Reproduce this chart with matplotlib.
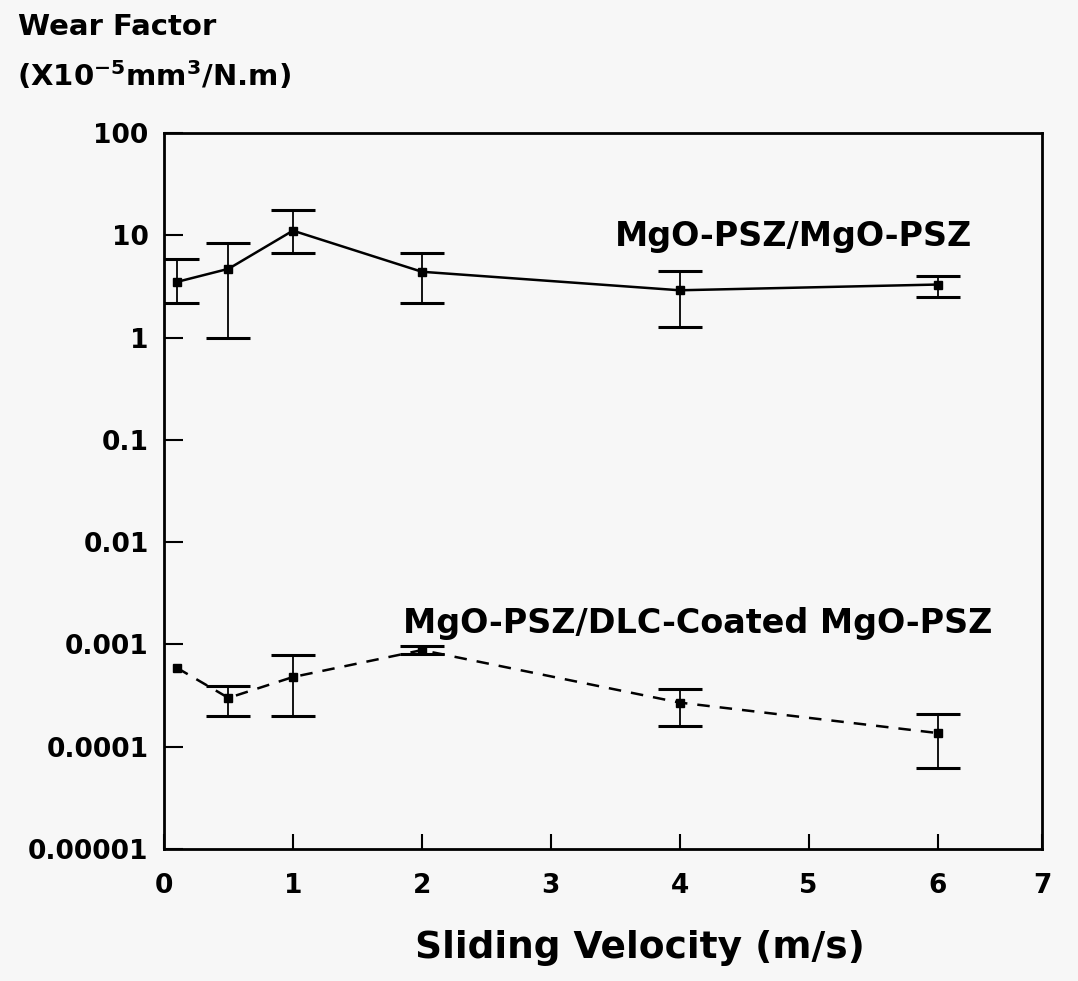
import numpy as np
import matplotlib
matplotlib.use("Agg")
import matplotlib.pyplot as plt

# ---- data ----
velocity = [0.1, 0.5, 1, 2, 4, 6]

psz_wear = [3.5, 4.7, 11.1, 4.4, 2.9, 3.3]
psz_upper = [5.8, 8.5, 17.5, 6.7, 4.5, 4.0]
psz_lower = [2.2, 1.0, 6.7, 2.2, 1.28, 2.5]

dlc_wear = [5.9e-4, 3.0e-4, 4.8e-4, 8.8e-4, 2.7e-4, 1.36e-4]
dlc_upper = [np.nan, 3.9e-4, 7.8e-4, 9.7e-4, 3.7e-4, 2.1e-4]
dlc_lower = [np.nan, 2.0e-4, 2.0e-4, 8.0e-4, 1.6e-4, 6.2e-5]

y_ticks = [1e-5, 1e-4, 1e-3, 1e-2, 1e-1, 1, 10, 100]
y_ticklabels = ["0.00001", "0.0001", "0.001", "0.01", "0.1", "1", "10", "100"]
x_ticks = [0, 1, 2, 3, 4, 5, 6]
x_ticklabels = ["0", "1", "2", "3", "4", "5", "6"]
x_right_label = "7"

label_top = "MgO-PSZ/MgO-PSZ"
label_bottom = "MgO-PSZ/DLC-Coated MgO-PSZ"

plt.rcParams['font.family'] = ['DejaVu Sans']
plt.rcParams['mathtext.fontset'] = 'dejavusans'

bg = '#f7f7f7'
fig = plt.figure(figsize=(10.78, 9.81), dpi=100, facecolor=bg)
ax = fig.add_axes([164/1078, 1-849/981, (1042-164)/1078, (849-133)/981])
ax.set_facecolor(bg)

ax.set_yscale('log')
ax.set_ylim(1e-5, 100)
x_right = 6.81
ax.set_xlim(0, x_right)


def draw(x, y, lo, hi, ls):
    x = np.asarray(x, float); y = np.asarray(y, float)
    lo = np.asarray(lo, float); hi = np.asarray(hi, float)
    ax.plot(x, y, color='black', lw=1.8, ls=ls, marker='s', ms=5.5,
            mfc='black', mec='black', zorder=3,
            dashes=(5, 4) if ls == '--' else (None, None))
    m = ~np.isnan(lo)
    ax.errorbar(x[m], y[m], yerr=[y[m]-lo[m], hi[m]-y[m]], fmt='none',
                ecolor='black', elinewidth=1.3, capsize=15.5, capthick=2.2, zorder=2)


draw(velocity, psz_wear, psz_lower, psz_upper, '-')
draw(velocity, dlc_wear, dlc_lower, dlc_upper, '--')

ax.set_yticks(y_ticks)
ax.set_yticklabels(y_ticklabels)
ax.yaxis.set_minor_locator(matplotlib.ticker.NullLocator())
ax.set_xticks(x_ticks + [x_right])
ax.set_xticklabels(x_ticklabels + [x_right_label])

ax.tick_params(axis='y', direction='in', length=14, width=1.5, pad=11,
               labelsize=19)
ax.tick_params(axis='x', direction='in', length=11, width=1.5, pad=17,
               labelsize=19)
for lab in ax.get_xticklabels() + ax.get_yticklabels():
    lab.set_fontweight('bold')
for s in ax.spines.values():
    s.set_linewidth(2.0)

ax.text(615/1078, 1-246/981, label_top, transform=fig.transFigure,
        fontsize=24, fontweight='bold', ha='left', va='baseline')
ax.text(403/1078, 1-633/981, label_bottom, transform=fig.transFigure,
        fontsize=24, fontweight='bold', ha='left', va='baseline')

fig.text(18/1078, 1-35/981, "Wear Factor", fontsize=21, fontweight='bold',
         ha='left', va='baseline')
fig.text(17/1078, 1-86/981, r"(X10$^{\mathbf{-5}}$mm$^{\mathbf{3}}$/N.m)",
         fontsize=21, fontweight='bold', ha='left', va='baseline')

fig.text(640/1078, 1-948/981, "Sliding Velocity (m/s)", fontsize=27,
         fontweight='bold', ha='center', va='center')

fig.savefig("out.png", dpi=100, facecolor=bg)
